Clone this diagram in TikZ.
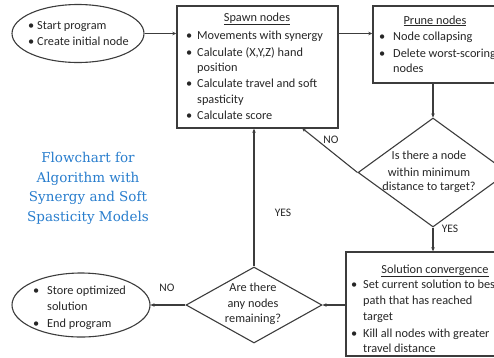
\documentclass[tikz,border=0pt]{standalone}
\usepackage{fontspec}
\setmainfont{Carlito}
\newfontfamily\titlefont{DejaVu Serif}
\usetikzlibrary{shapes.geometric,arrows.meta}
\definecolor{lc}{RGB}{60,60,60}
\definecolor{tblue}{RGB}{40,125,205}
\tikzset{
  boxshape/.style={draw=lc,line width=1.4pt,rectangle,inner sep=0pt},
  ellshape/.style={draw=lc,line width=1.1pt,ellipse,inner sep=0pt},
  decshape/.style={draw=lc,line width=1.1pt,diamond,inner sep=0pt},
  txt/.style={anchor=base west,inner sep=0pt,font=\fontsize{12.3}{14}\selectfont,text=black!85},
  ctxt/.style={anchor=base,inner sep=0pt,font=\fontsize{12.3}{14}\selectfont,text=black!85},
  lbl/.style={inner sep=0pt,font=\fontsize{11.5}{13}\selectfont,text=black!85},
  ttl/.style={anchor=base,inner sep=0pt,font=\titlefont\fontsize{13.5}{15}\selectfont,text=tblue},
  conn/.style={draw=lc,line width=1.1pt,-{Stealth[length=4pt,width=3.5pt]}},
}
\begin{document}
\begin{tikzpicture}[x=1pt,y=-1pt]
\useasboundingbox (0,0) rectangle (494,357);
\clip (0,0) rectangle (494,357);
% shapes
\node[ellshape,minimum width=132pt,minimum height=58pt] (start) at (78,33.5) {};
\node[boxshape,minimum width=161pt,minimum height=122pt] (spawn) at (257.5,67) {};
\node[boxshape,minimum width=150pt,minimum height=77pt] (prune) at (448,44.5) {};
\node[decshape,minimum width=150pt,minimum height=109pt] (d1) at (433,172.5) {};
\node[boxshape,minimum width=176pt,minimum height=104pt] (sol) at (434,304) {};
\node[decshape,minimum width=136pt,minimum height=76pt] (d2) at (254,305) {};
\node[ellshape,minimum width=138pt,minimum height=64pt] (endE) at (81,305) {};
\coordinate (noin) at (302,128);
% connectors
\draw[conn] (start.east) -- (start.east -| spawn.west);
\draw[conn] (spawn.east |- start.east) -- (prune.west |- start.east);
\draw[conn] (prune.south -| d1.north) -- (d1.north);
\draw[conn] (d1.south) -- (sol.north -| d1.south);
\draw[conn] (d1.west) -- (noin);
\draw[conn] (sol.west |- d2.east) -- (d2.east);
\draw[conn] (d2.north) -- (spawn.south -| d2.north);
\draw[conn] (d2.west) -- (endE.east);
% labels
\node[lbl] (lno1) at (331,140) {NO};
\node[lbl] (lyes1) at (450,229) {YES};
\node[lbl] (lyes2) at (283,213) {YES};
\node[lbl] (lno2) at (167,288) {NO};
% start text
\node[txt] (s1) at (28,29) {•};
\node[txt] (s2) at (37,29) {Start program};
\node[txt] (s3) at (28,45) {•};
\node[txt] (s4) at (37,45) {Create initial node};
% spawn text
\node[ctxt] (sp0) at (257,21) {\underline{Spawn nodes}};
\node[txt] (sb1) at (186,39) {•};
\node[txt] (sp1) at (197,39) {Movements with synergy};
\node[txt] (sb2) at (186,56) {•};
\node[txt] (sp2) at (197,56) {Calculate (X,Y,Z) hand};
\node[txt] (sp3) at (197,71) {position};
\node[txt] (sb3) at (186,87) {•};
\node[txt] (sp4) at (197,87) {Calculate travel and soft};
\node[txt] (sp5) at (197,103) {spasticity};
\node[txt] (sb4) at (186,119) {•};
\node[txt] (sp6) at (197,119) {Calculate score};
% prune text
\node[ctxt] (pr0) at (435,24) {\underline{Prune nodes}};
\node[txt] (pb1) at (379,40) {•};
\node[txt] (pr1) at (393,40) {Node collapsing};
\node[txt] (pb2) at (379,57) {•};
\node[txt] (pr2) at (393,57) {Delete worst-scoring};
\node[txt] (pr3) at (393,72) {nodes};
% diamond 1 text
\node[ctxt] (q1a) at (429,159) {Is there a node};
\node[ctxt] (q1b) at (429,176) {within minimum};
\node[ctxt] (q1c) at (429,190) {distance to target?};
% solution text
\node[ctxt] (so0) at (435,273) {\underline{Solution convergence}};
\node[txt] (ob1) at (351,288) {•};
\node[txt] (so1) at (363,288) {Set current solution to best};
\node[txt] (so2) at (363,304) {path that has reached};
\node[txt] (so3) at (363,320) {target};
\node[txt] (ob2) at (351,337) {•};
\node[txt] (so4) at (363,337) {Kill all nodes with greater};
\node[txt] (so5) at (363,352) {travel distance};
% diamond 2 text
\node[ctxt] (q2a) at (253,291) {Are there};
\node[ctxt] (q2b) at (253,307) {any nodes};
\node[ctxt] (q2c) at (253,322) {remaining?};
% end text
\node[txt] (e1) at (33,294) {•};
\node[txt] (e2) at (47,294) {Store optimized};
\node[txt] (e3) at (47,310) {solution};
\node[txt] (e4) at (33,327) {•};
\node[txt] (e5) at (47,327) {End program};
% title
\node[ttl] (t1) at (88,162) {Flowchart for};
\node[ttl] (t2) at (88,182) {Algorithm with};
\node[ttl] (t3) at (88,201) {Synergy and Soft};
\node[ttl] (t4) at (88,221) {Spasticity Models};
\end{tikzpicture}
\end{document}
